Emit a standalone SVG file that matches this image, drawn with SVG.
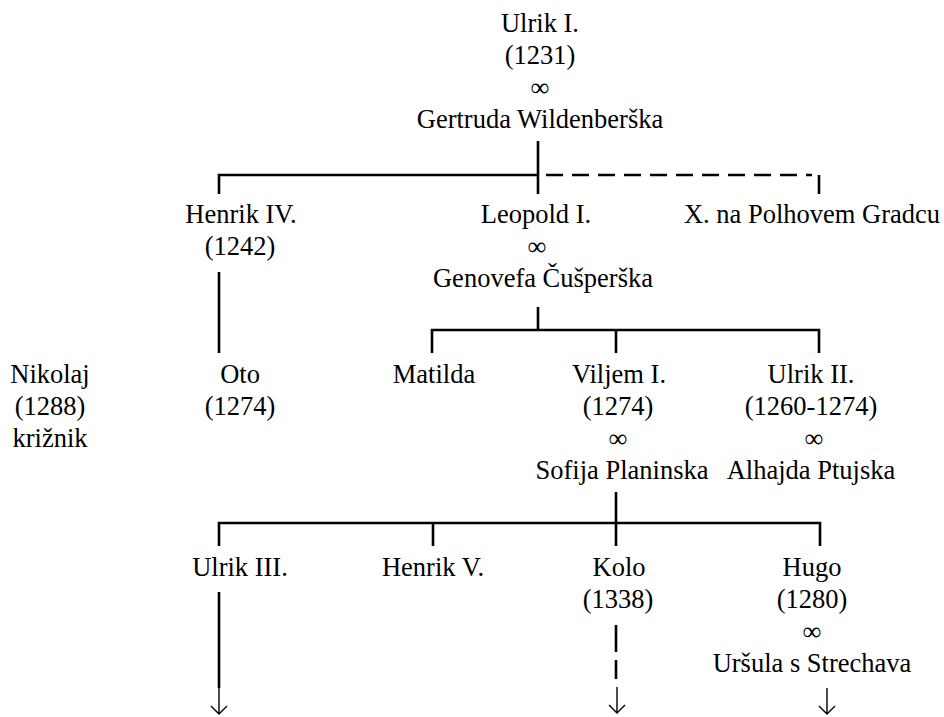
<svg xmlns="http://www.w3.org/2000/svg" width="944" height="717" viewBox="0 0 944 717">
<style>
.l{stroke:#000;stroke-width:2.6;fill:none}
.d{stroke:#000;stroke-width:2.6;fill:none;stroke-dasharray:17 9}
.a{stroke:#000;stroke-width:1.4;fill:none}
.t{font-family:"Liberation Serif",Tinos,"Times New Roman","DejaVu Serif",serif;font-size:26.5px;text-anchor:middle;fill:#000}
</style>
<rect width="944" height="717" fill="#fff"/>
<g id="connectors">
<path class="l" d="M538 141V194M219 194V175H538M819 175V194"/>
<path class="d" d="M546 175H812"/>
<path class="l" d="M219 272V353"/>
<path class="l" d="M538 307V330M432 353V330H819V353M616 330V353"/>
<path class="l" d="M616 492V523M219 546V523H820V546M433 523V546M616 523V546"/>
<path class="l" d="M219 592V688"/>
<path class="a" d="M219 686V714M211 706L219 714L227 706"/>
<path class="l" d="M616 625V652M616 660V679"/>
<path class="a" d="M617 687V713M609 705L617 713L625 705"/>
<path class="a" d="M827 688V714M819 706L827 714L835 706"/>
</g>
<g class="t">
<g id="ulrik1"><text x="540" y="32">Ulrik I.</text><text x="540" y="64">(1231)</text><text x="540" y="96">∞</text><text x="540" y="128">Gertruda Wildenberška</text></g>
<g id="henrik4"><text x="241" y="223">Henrik IV.</text><text x="240" y="255">(1242)</text></g>
<g id="leopold1"><text x="536" y="223">Leopold I.</text><text x="537" y="255">∞</text><text x="543" y="287">Genovefa Čušperška</text></g>
<g id="x-polhov"><text x="812" y="223">X. na Polhovem Gradcu</text></g>
<g id="nikolaj"><text x="50" y="383">Nikolaj</text><text x="50" y="415">(1288)</text><text x="50" y="447">križnik</text></g>
<g id="oto"><text x="240" y="383">Oto</text><text x="240" y="415">(1274)</text></g>
<g id="matilda"><text x="434" y="383">Matilda</text></g>
<g id="viljem1"><text x="619" y="383">Viljem I.</text><text x="618" y="415">(1274)</text><text x="618" y="447">∞</text><text x="622" y="479">Sofija Planinska</text></g>
<g id="ulrik2"><text x="811" y="383">Ulrik II.</text><text x="811" y="415">(1260-1274)</text><text x="814" y="447">∞</text><text x="811" y="479">Alhajda Ptujska</text></g>
<g id="ulrik3"><text x="240" y="576">Ulrik III.</text></g>
<g id="henrik5"><text x="433" y="576">Henrik V.</text></g>
<g id="kolo"><text x="619" y="576">Kolo</text><text x="618" y="608">(1338)</text></g>
<g id="hugo"><text x="812" y="576">Hugo</text><text x="812" y="608">(1280)</text><text x="812" y="640">∞</text><text x="812" y="672">Uršula s Strechava</text></g>
</g>
</svg>
